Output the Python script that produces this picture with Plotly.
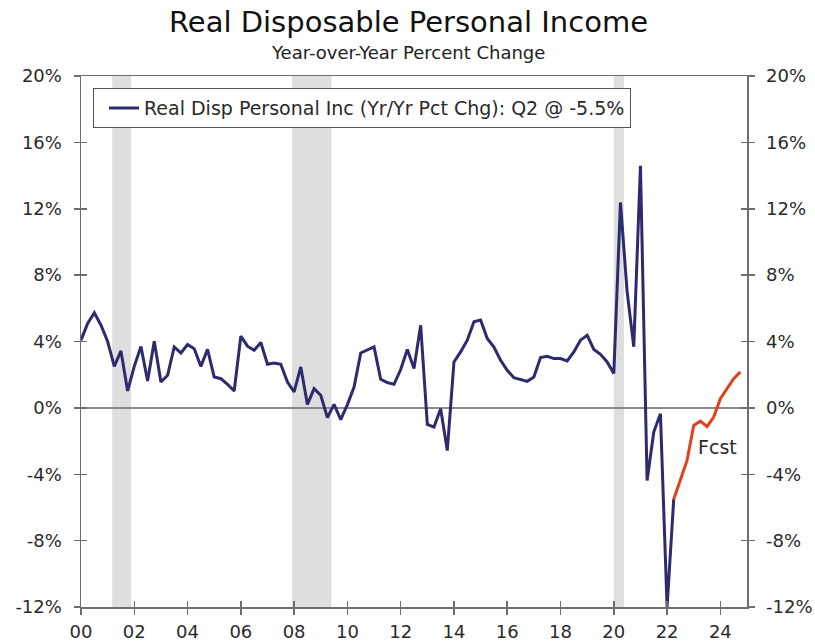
import plotly.graph_objects as go

# ---- data ----
start_year = 2000
actual_values = [
    4.08, 5.09, 5.73, 4.98, 4.0, 2.5, 3.43, 1.02, 2.5, 3.7,
    1.62, 4.02, 1.56, 1.96, 3.67, 3.31, 3.82, 3.57, 2.5, 3.53,
    1.86, 1.76, 1.42, 1.02, 4.32, 3.72, 3.47, 3.94, 2.63, 2.71,
    2.63, 1.56, 0.96, 2.47, 0.21, 1.16, 0.76, -0.59, 0.21, -0.71,
    0.2, 1.26, 3.31, 3.47, 3.67, 1.72, 1.52, 1.42, 2.31, 3.52,
    2.37, 4.98, -1.0, -1.16, -0.05, -2.57, 2.77, 3.37, 4.08, 5.19,
    5.29, 4.18, 3.67, 2.87, 2.27, 1.82, 1.70, 1.60, 1.86, 3.03,
    3.11, 2.97, 2.97, 2.83, 3.37, 4.08, 4.38, 3.52, 3.23, 2.77,
    2.07, 12.38, 7.0, 3.68, 14.59, -4.38, -1.46, -0.35, -12.0, -5.5,
]
forecast_values = [-5.5, -4.28, -3.17, -1.06, -0.80, -1.12, -0.55, 0.55, 1.16, 1.76, 2.17]
recession_starts = [2001.17, 2007.92, 2020.0]
recession_ends = [2001.88, 2009.40, 2020.38]
x_tick_vals = list(range(2000, 2025, 2))
x_tick_text = ["00", "02", "04", "06", "08", "10", "12", "14", "16", "18", "20", "22", "24"]
y_tick_vals = [-12, -8, -4, 0, 4, 8, 12, 16, 20]
y_tick_text = ["-12%", "-8%", "-4%", "0%", "4%", "8%", "12%", "16%", "20%"]
legend_label = "Real Disp Personal Inc (Yr/Yr Pct Chg): Q2 @ -5.5%"
title_text = "Real Disposable Personal Income"
subtitle_text = "Year-over-Year Percent Change"
fcst_label = "Fcst"
fcst_label_pos = (2023.88, -2.37)

actual_x = [start_year + i * 0.25 for i in range(len(actual_values))]
fc_start = actual_x[-1]
forecast_x = [fc_start + i * 0.25 for i in range(len(forecast_values))]

NAVY = "#2D2A6E"
RED = "#E5401E"
AXIS = "#6E6E6E"
FONT = "DejaVu Sans"
TXT = "#2a2a2a"

fig = go.Figure()
fig.add_trace(go.Scatter(x=actual_x, y=actual_values, mode="lines",
                         line=dict(color=NAVY, width=3), name=legend_label,
                         showlegend=True))
fig.add_trace(go.Scatter(x=forecast_x, y=forecast_values, mode="lines",
                         line=dict(color=RED, width=3), name="Forecast",
                         showlegend=False))

for s, e in zip(recession_starts, recession_ends):
    fig.add_shape(type="rect", xref="x", yref="paper", x0=s, x1=e, y0=0, y1=1,
                  fillcolor="#DEDEDE", line=dict(width=0), layer="below")

xr = [2000, 2025]
yr = [-12, 20]
tickfont = dict(family=FONT, size=18, color=TXT)

fig.update_layout(
    width=815, height=641,
    margin=dict(l=81, r=68, t=76, b=34, autoexpand=False),
    paper_bgcolor="white", plot_bgcolor="white",
    font=dict(family=FONT, color=TXT),
    showlegend=True,
    legend=dict(x=0.018, y=0.977, xanchor="left", yanchor="top",
                bordercolor="#555555", borderwidth=1, bgcolor="white",
                font=dict(family=FONT, size=19, color=TXT),
                itemwidth=30, tracegroupgap=0, indentation=10),
    xaxis=dict(range=xr, tickvals=x_tick_vals, ticktext=x_tick_text,
               ticks="outside", ticklen=6, tickwidth=1.5, tickcolor=AXIS,
               showline=True, linecolor=AXIS, linewidth=1.5, mirror=True,
               showgrid=False, zeroline=False, tickfont=tickfont,
               automargin=False, ticklabelstandoff=2),
    xaxis2=dict(range=xr, overlaying="x", tickvals=x_tick_vals, showticklabels=False,
                ticks="inside", ticklen=6, tickwidth=1.5, tickcolor=AXIS,
                showline=False, showgrid=False, zeroline=False, automargin=False),
    yaxis=dict(range=yr, tickvals=y_tick_vals, ticktext=y_tick_text,
               ticks="outside", ticklen=6, tickwidth=1.5, tickcolor=AXIS,
               showline=True, linecolor=AXIS, linewidth=1.5,
               showgrid=False, zeroline=True, zerolinecolor="#8A8A8A",
               zerolinewidth=1.5, tickfont=tickfont, automargin=False,
               ticklabelstandoff=8),
    yaxis2=dict(range=yr, overlaying="y", side="right", tickvals=y_tick_vals,
                ticktext=y_tick_text, ticks="outside", ticklen=6, tickwidth=1.5,
                tickcolor=AXIS, showline=True, linecolor=AXIS, linewidth=1.5,
                showgrid=False, zeroline=False, tickfont=tickfont, automargin=False,
                ticklabelstandoff=8),
    yaxis3=dict(range=yr, overlaying="y", side="left", tickvals=y_tick_vals,
                showticklabels=False, ticks="inside", ticklen=6, tickwidth=1.5,
                tickcolor=AXIS, showline=False, showgrid=False, zeroline=False,
                automargin=False),
    yaxis4=dict(range=yr, overlaying="y", side="right", tickvals=y_tick_vals,
                showticklabels=False, ticks="inside", ticklen=6, tickwidth=1.5,
                tickcolor=AXIS, showline=False, showgrid=False, zeroline=False,
                automargin=False),
)

# invisible helper traces so overlay axes render
for xa, ya in [("x2", "y"), ("x", "y2"), ("x", "y3"), ("x", "y4")]:
    fig.add_trace(go.Scatter(x=[None], y=[None], xaxis=xa, yaxis=ya,
                             showlegend=False, hoverinfo="skip"))

fig.add_annotation(text=title_text, xref="paper", yref="paper", x=0.491, y=1,
                   yshift=54, xanchor="center", yanchor="middle", showarrow=False,
                   font=dict(family=FONT, size=29, color="#111111"))
fig.add_annotation(text=subtitle_text, xref="paper", yref="paper", x=0.491, y=1,
                   yshift=24, xanchor="center", yanchor="middle", showarrow=False,
                   font=dict(family=FONT, size=18, color="#222222"))
fig.add_annotation(text=fcst_label, x=fcst_label_pos[0], y=fcst_label_pos[1],
                   xref="x", yref="y", showarrow=False,
                   font=dict(family=FONT, size=19, color=TXT))

fig.write_html("out.html",
               config={"displayModeBar": False, "staticPlot": True},
               post_script="document.body.style.margin='0';document.body.style.overflow='hidden';")
